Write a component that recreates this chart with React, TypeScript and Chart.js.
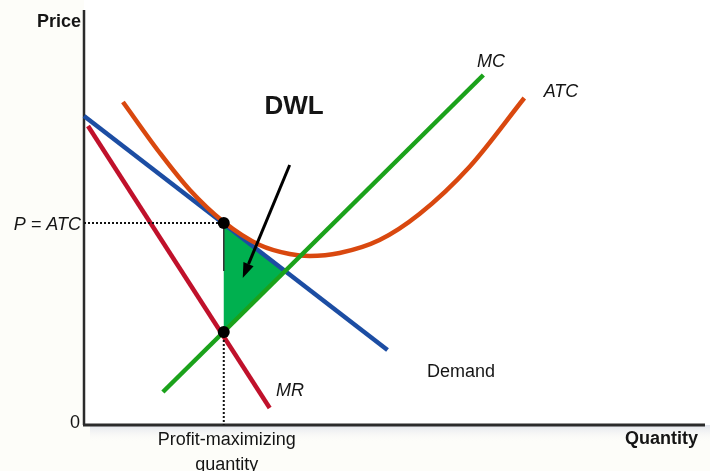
import React, { useEffect, useRef } from "react";
import { Chart, registerables } from "chart.js";

Chart.register(...registerables);

// Curves in chart units: quantity on x, price on y (origin at the axes corner)
const demandQ = [0, 304];
const demandP = [309, 75];
const mrQ = [4, 186];
const mrP = [299, 17];
const mcQ = [79, 400];
const mcP = [33, 350];
const atcQ = [39, 76, 106, 140, 176, 206, 226, 256, 296, 336, 386, 441];
const atcP = [323, 272, 235, 203, 180, 171, 169, 172, 185, 211, 258, 327];

// Monopoly outcome and the efficient (P = MC on demand) point
const profitQ = 140;
const profitP = 202;
const mcAtProfitQ = 93;
const efficientQ = 201.5;
const efficientP = 154;

// Arrow pointing into the deadweight-loss triangle
const arrowFrom = [206, 260];
const arrowTo = [159, 147];

const X_MAX = 621;
const Y_MAX = 409;

const FONT = "'Liberation Sans', Arial, sans-serif";
const TEXT = "#151515";

const pts = (xs: number[], ys: number[]) => xs.map((x, i) => ({ x, y: ys[i] }));

const diagramPlugin = {
  id: "diagram",
  beforeDraw(chart: any) {
    const { ctx, chartArea: a, width, height } = chart;
    ctx.save();
    ctx.fillStyle = "#fdfdf9";
    ctx.fillRect(0, 0, width, height);
    ctx.fillStyle = "#ffffff";
    ctx.fillRect(a.left, 0, width - a.left, a.bottom);
    // soft band under the quantity axis
    const g = ctx.createLinearGradient(0, a.bottom, 0, a.bottom + 16);
    g.addColorStop(0, "#e2e5ec");
    g.addColorStop(1, "rgba(248,248,246,0)");
    ctx.fillStyle = g;
    ctx.fillRect(a.left + 6, a.bottom, width - a.left - 6, 16);
    ctx.restore();
  },
  beforeDatasetsDraw(chart: any) {
    const { ctx, chartArea: a, scales } = chart;
    const xs = scales.x;
    const ys = scales.y;
    ctx.save();
    // deadweight-loss triangle
    ctx.beginPath();
    ctx.moveTo(xs.getPixelForValue(profitQ), ys.getPixelForValue(profitP));
    ctx.lineTo(xs.getPixelForValue(profitQ), ys.getPixelForValue(mcAtProfitQ));
    ctx.lineTo(xs.getPixelForValue(efficientQ), ys.getPixelForValue(efficientP));
    ctx.closePath();
    ctx.fillStyle = "#00b04f";
    ctx.fill();
    // axes
    ctx.strokeStyle = "#2b2b2b";
    ctx.lineWidth = 2.5;
    ctx.beginPath();
    ctx.moveTo(a.left, 10);
    ctx.lineTo(a.left, a.bottom);
    ctx.stroke();
    ctx.lineWidth = 3;
    ctx.beginPath();
    ctx.moveTo(a.left - 1, a.bottom);
    ctx.lineTo(a.right + 1, a.bottom);
    ctx.stroke();
    ctx.restore();
  },
  afterDatasetsDraw(chart: any) {
    const { ctx, scales } = chart;
    const xs = scales.x;
    const ys = scales.y;
    const x0 = xs.getPixelForValue(arrowFrom[0]);
    const y0 = ys.getPixelForValue(arrowFrom[1]);
    const x1 = xs.getPixelForValue(arrowTo[0]);
    const y1 = ys.getPixelForValue(arrowTo[1]);
    const ang = Math.atan2(y1 - y0, x1 - x0);
    const headLen = 15;
    const headW = 5.5;
    const bx = x1 - headLen * Math.cos(ang);
    const by = y1 - headLen * Math.sin(ang);
    ctx.save();
    ctx.strokeStyle = "#000";
    ctx.lineWidth = 3;
    ctx.beginPath();
    ctx.moveTo(x0, y0);
    ctx.lineTo(bx, by);
    ctx.stroke();
    ctx.fillStyle = "#000";
    ctx.beginPath();
    ctx.moveTo(x1, y1);
    ctx.lineTo(bx + headW * Math.sin(ang), by - headW * Math.cos(ang));
    ctx.lineTo(bx - headW * Math.sin(ang), by + headW * Math.cos(ang));
    ctx.closePath();
    ctx.fill();
    ctx.restore();
  },
  afterDraw(chart: any) {
    const { ctx, chartArea: a, scales } = chart;
    const xs = scales.x;
    const ys = scales.y;
    const qPx = xs.getPixelForValue(profitQ);
    const pPx = ys.getPixelForValue(profitP);
    const put = (text: string, x: number, y: number, font: string, align: CanvasTextAlign = "center") => {
      ctx.font = font;
      ctx.textAlign = align;
      ctx.textBaseline = "middle";
      ctx.fillStyle = TEXT;
      ctx.fillText(text, x, y);
    };
    ctx.save();
    put("Price", a.left - 3, 22, `bold 18px ${FONT}`, "right");
    put("P = ATC", a.left - 3, pPx + 2, `italic 18px ${FONT}`, "right");
    put("0", a.left - 4, a.bottom - 2, `18px ${FONT}`, "right");
    put("Quantity", a.right - 6, 439, `bold 18px ${FONT}`, "right");
    put("Profit-maximizing", qPx + 3, 440, `18px ${FONT}`);
    put("quantity", qPx + 3, 465, `18px ${FONT}`);
    put("DWL", 294, 107, `bold 26px ${FONT}`);
    put("MC", 491, 62, `italic 18px ${FONT}`);
    put("ATC", 561, 92, `italic 18px ${FONT}`);
    put("MR", 290, 391, `italic 18px ${FONT}`);
    put("Demand", 461, 372, `18px ${FONT}`);
    ctx.restore();
  },
};

export default function App() {
  const ref = useRef<HTMLCanvasElement | null>(null);

  useEffect(() => {
    if (!ref.current) return;
    const line = (data: any[], color: string, width: number, order: number, extra: any = {}) => ({
      data,
      showLine: true,
      borderColor: color,
      backgroundColor: color,
      borderWidth: width,
      pointRadius: 0,
      fill: false,
      clip: false,
      order,
      ...extra,
    });

    const chart = new Chart(ref.current, {
      type: "scatter",
      data: {
        datasets: [
          // equilibrium dots
          {
            data: [
              { x: profitQ, y: profitP },
              { x: profitQ, y: mcAtProfitQ },
            ],
            showLine: false,
            pointRadius: 6,
            pointBackgroundColor: "#000",
            pointBorderWidth: 0,
            clip: false,
            order: 0,
          } as any,
          // dotted guides to the axes
          line(pts([0, profitQ], [profitP, profitP]), "#111", 2, 1, { borderDash: [2, 2] }),
          line(pts([profitQ, profitQ], [mcAtProfitQ, 0]), "#111", 2, 1, { borderDash: [2, 2] }),
          // thin edge of the triangle
          line(pts([profitQ, profitQ], [profitP, efficientP]), "#333", 1.5, 1),
          line(pts(mrQ, mrP), "#c0112b", 4.5, 2),
          line(pts(mcQ, mcP), "#1ba21b", 4.5, 3),
          line(pts(atcQ, atcP), "#d9480f", 4.5, 4, { tension: 0.4, cubicInterpolationMode: "monotone" }),
          line(pts(demandQ, demandP), "#1c4da3", 4.5, 5),
        ],
      },
      options: {
        responsive: false,
        maintainAspectRatio: false,
        devicePixelRatio: 1,
        animation: false,
        events: [],
        layout: { padding: { left: 84, top: 16, right: 5, bottom: 46 } },
        plugins: { legend: { display: false }, tooltip: { enabled: false } },
        scales: {
          x: { type: "linear", min: 0, max: X_MAX, display: false },
          y: { type: "linear", min: 0, max: Y_MAX, display: false },
        },
      },
      plugins: [diagramPlugin],
    });
    return () => chart.destroy();
  }, []);

  return (
    <div style={{ position: "absolute", left: 0, top: 0, width: 710, height: 471 }}>
      <canvas ref={ref} width={710} height={471} style={{ display: "block" }} />
    </div>
  );
}
